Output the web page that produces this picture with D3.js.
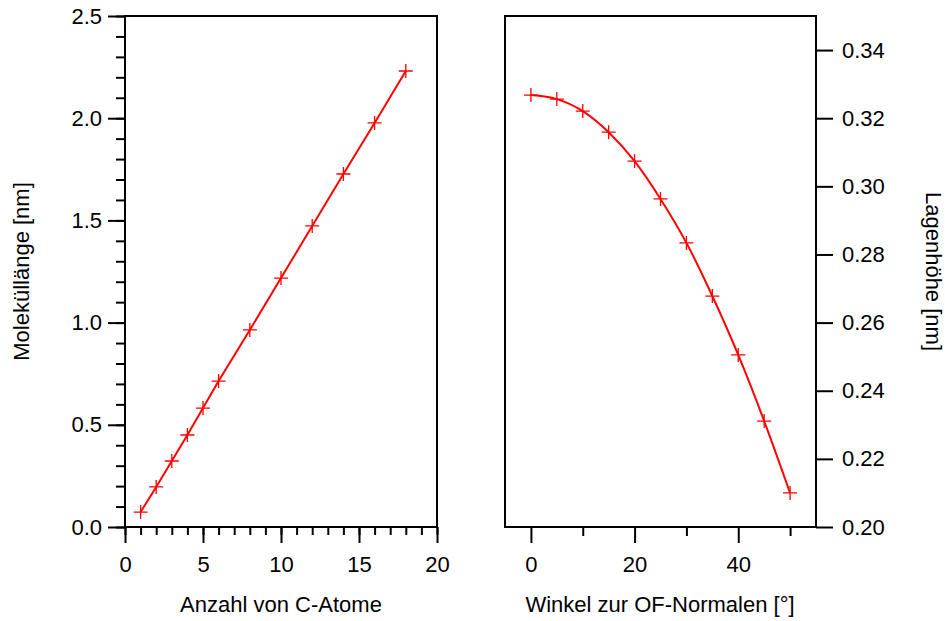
<!DOCTYPE html>
<html>
<head>
<meta charset="utf-8">
<script src="https://cdn.jsdelivr.net/npm/d3@7"></script>
<style>
  body { margin: 0; background: #fff; }
  svg { font-family: "Liberation Sans", Arial, sans-serif; }
  .axis path { display: none; }
  .axis line { stroke: #000; stroke-width: 2; }
  .axis text { font-size: 22px; fill: #000; }
</style>
</head>
<body>
<div id="chart"></div>
<script>
// left panel: molecule length vs number of C atoms
const carbons = [1, 2, 3, 4, 5, 6, 8, 10, 12, 14, 16, 18];
const lengths = [0.073, 0.196, 0.323, 0.45, 0.582, 0.714, 0.964, 1.218, 1.473, 1.727, 1.977, 2.231];
const leftYTicks = [0, 0.5, 1.0, 1.5, 2.0, 2.5];
const leftXTicks = [0, 5, 10, 15, 20];

// right panel: layer height vs tilt angle
const angles = [0, 5, 10, 15, 20, 25, 30, 35, 40, 45, 50];
const heights = [0.3268, 0.3256, 0.3221, 0.3159, 0.3074, 0.2963, 0.2834, 0.2678, 0.2505, 0.2311, 0.2100];
const rightYTicks = [0.20, 0.22, 0.24, 0.26, 0.28, 0.30, 0.32, 0.34];
const rightXTicks = [0, 20, 40];
const rightXMinor = [10, 30, 50];

const width = 945, height = 621;
const plotTop = 16, plotBottom = 527;
const red = "#ff0000";

let svg = d3.select("#chart").append("svg")
  .attr("width", width)
  .attr("height", height);

function drawMarkers(g, xs, ys, x, y) {
  let s = 7;
  g.selectAll("path.mark")
    .data(xs.map((d, i) => [d, ys[i]]))
    .enter()
    .append("path")
    .attr("class", "mark")
    .attr("d", d => {
      let px = x(d[0]), py = y(d[1]);
      return "M" + (px - s) + "," + py + "H" + (px + s) + "M" + px + "," + (py - s) + "V" + (py + s);
    })
    .attr("stroke", red)
    .attr("stroke-width", 1.3)
    .attr("fill", "none");
}

// ---- left panel ----
let x1 = d3.scaleLinear().domain([0, 20]).range([125, 437]);
let y1 = d3.scaleLinear().domain([0, 2.5]).range([plotBottom, plotTop]);

svg.append("g").attr("class", "axis")
  .attr("transform", "translate(125,0)")
  .call(d3.axisLeft(y1).tickValues(d3.range(0, 2.51, 0.1)).tickSize(9).tickFormat(""));
svg.append("g").attr("class", "axis")
  .attr("transform", "translate(125,0)")
  .call(d3.axisLeft(y1).tickValues(leftYTicks).tickSize(17).tickPadding(6).tickFormat(d3.format(".1f")));

svg.append("g").attr("class", "axis")
  .attr("transform", "translate(0," + plotBottom + ")")
  .call(d3.axisBottom(x1).tickValues(d3.range(0, 21, 1)).tickSize(8).tickFormat(""));
svg.append("g").attr("class", "axis")
  .attr("transform", "translate(0," + plotBottom + ")")
  .call(d3.axisBottom(x1).tickValues(leftXTicks).tickSize(16).tickPadding(13));

svg.append("rect")
  .attr("x", 125).attr("y", plotTop)
  .attr("width", 437 - 125).attr("height", plotBottom - plotTop)
  .attr("fill", "none").attr("stroke", "#000").attr("stroke-width", 2);

let g1 = svg.append("g");
g1.append("path")
  .datum(carbons.map((d, i) => [d, lengths[i]]))
  .attr("d", d3.line().x(d => x1(d[0])).y(d => y1(d[1])))
  .attr("fill", "none").attr("stroke", red).attr("stroke-width", 2);
drawMarkers(g1, carbons, lengths, x1, y1);

svg.append("text")
  .attr("x", 281).attr("y", 612)
  .attr("text-anchor", "middle")
  .style("font-size", "22px")
  .text("Anzahl von C-Atome");

svg.append("text")
  .attr("transform", "translate(29," + ((plotTop + plotBottom) / 2) + ") rotate(-90)")
  .attr("text-anchor", "middle")
  .style("font-size", "22px")
  .text("Moleküllänge [nm]");

// ---- right panel ----
let x2 = d3.scaleLinear().domain([-5, 55]).range([505, 816]);
let y2 = d3.scaleLinear().domain([0.20, 0.35]).range([plotBottom, plotTop]);

svg.append("g").attr("class", "axis")
  .attr("transform", "translate(816,0)")
  .call(d3.axisRight(y2).tickValues(rightYTicks).tickSize(17).tickPadding(9).tickFormat(d3.format(".2f")));

svg.append("g").attr("class", "axis")
  .attr("transform", "translate(0," + plotBottom + ")")
  .call(d3.axisBottom(x2).tickValues(rightXMinor).tickSize(9).tickFormat(""));
svg.append("g").attr("class", "axis")
  .attr("transform", "translate(0," + plotBottom + ")")
  .call(d3.axisBottom(x2).tickValues(rightXTicks).tickSize(16).tickPadding(13));

svg.append("rect")
  .attr("x", 505).attr("y", plotTop)
  .attr("width", 816 - 505).attr("height", plotBottom - plotTop)
  .attr("fill", "none").attr("stroke", "#000").attr("stroke-width", 2);

let g2 = svg.append("g");
g2.append("path")
  .datum(angles.map((d, i) => [d, heights[i]]))
  .attr("d", d3.line().curve(d3.curveMonotoneX).x(d => x2(d[0])).y(d => y2(d[1])))
  .attr("fill", "none").attr("stroke", red).attr("stroke-width", 2);
drawMarkers(g2, angles, heights, x2, y2);

svg.append("text")
  .attr("x", 660).attr("y", 612)
  .attr("text-anchor", "middle")
  .style("font-size", "22px")
  .text("Winkel zur OF-Normalen [°]");

svg.append("text")
  .attr("transform", "translate(926," + ((plotTop + plotBottom) / 2) + ") rotate(90)")
  .attr("text-anchor", "middle")
  .style("font-size", "22px")
  .text("Lagenhöhe [nm]");
</script>
</body>
</html>
